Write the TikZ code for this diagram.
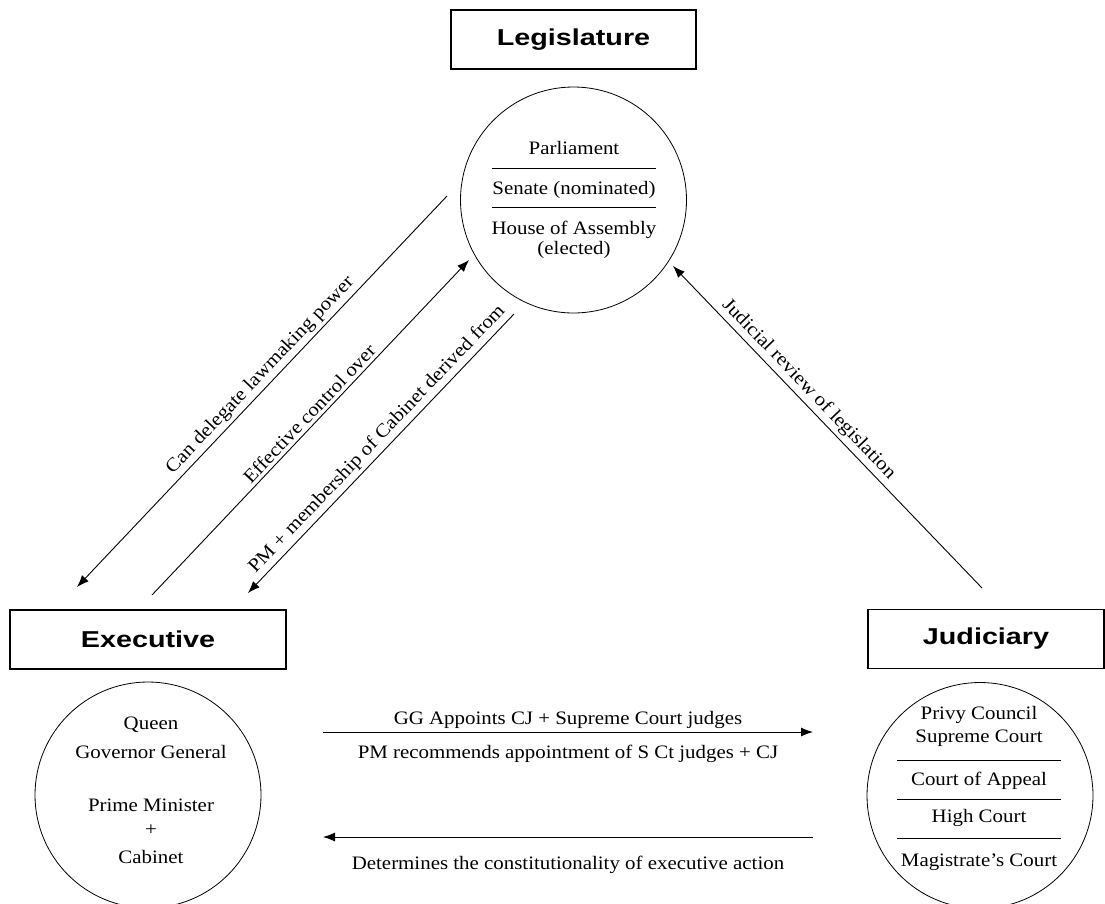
\documentclass[tikz,border=0pt]{standalone}
\usepackage{fontspec}
\setmainfont{Liberation Serif}[FakeStretch=1.1]
\newfontfamily\headfont{Liberation Sans}[FakeStretch=1.25]
\usepackage{tikz}
\usetikzlibrary{positioning}
\usetikzlibrary{arrows.meta}

\begin{document}
\begin{tikzpicture}[
x = 1pt, y = -1pt,
every node/.style = {font = \fontsize{19}{22}\selectfont},
  headbox/.style = {draw, rectangle, line width = 1.2pt, minimum height = 59pt,
    font = \headfont\bfseries\fontsize{23}{27}\selectfont},
  ring/.style = {draw, circle, minimum size = 226pt, inner sep = 0pt, line width = .8pt},
  arr/.style = {line width = .9pt, -{Latex[length = 12pt, width = 9pt]}},
  rra/.style = {line width = .9pt, {Latex[length = 12pt, width = 9pt]}-}
]
\path[use as bounding box, fill = white] (0,0) rectangle (1105,903);

% the three branches
\node[headbox, minimum width = 245pt] (legbox) at (573.5,39.5) {Legislature};
\node[headbox, minimum width = 276pt] (exebox) at (148,639.5) {Executive};
\node[headbox, minimum width = 236pt] (judbox) at (986,639) {Judiciary};

\node[ring, below = 17pt of legbox] (leg) {};
\node[ring, below = 12pt of exebox] (exe) {};
\node[ring, below = 13pt of judbox, xshift = -6pt] (jud) {};

% inside the circles
\foreach \y/\t in {148/Parliament, 190/Senate (nominated), 230/House of Assembly, 250/(elected)}
  \node (legtxt\y) at (574,\y) {\t};
\foreach \y in {168,207}
  \draw[line width = .8pt] (492,\y) -- (656,\y);

\foreach \y/\t in {725/Queen, 752/Governor General, 805/Prime Minister, 830/+, 857/Cabinet}
  \node (exetxt\y) at (151,\y) {\t};

\foreach \y/\t in {715/Privy Council, 738/Supreme Court, 781/Court of Appeal, 818/High Court, 862/Magistrate's Court}
  \node (judtxt\y) at (979,\y) {\t};
\foreach \y in {760,799,838}
  \draw[line width = .8pt] (897,\y) -- (1061,\y);

% connector ends
\coordinate (dela) at (77,587);
\coordinate (delb) at (447,196);
\coordinate (ctla) at (152,595);
\coordinate (ctlb) at (469,260);
\coordinate (pma) at (248,593);
\coordinate (pmb) at (514,314);
\coordinate (reva) at (673,266);
\coordinate (revb) at (982,588);
\coordinate (gga) at (323,732);
\coordinate (ggb) at (813,732);
\coordinate (deta) at (323,837);
\coordinate (detb) at (813,837);

\draw[rra] (dela) -- node[pos = .52, sloped, above] (lbldel) {Can delegate lawmaking power} (delb);
\draw[arr] (ctla) -- node[pos = .52, sloped, above] (lblctl) {Effective control over} (ctlb);
\draw[rra] (pma) -- node[pos = .52, sloped, above] (lblpm) {PM + membership of Cabinet derived from} (pmb);
\draw[rra] (reva) -- node[pos = .41, sloped, above] (lblrev) {Judicial review of legislation} (revb);

\draw[arr] (gga) -- node[above] (lblgg) {GG Appoints CJ + Supreme Court judges}
  node[below = 9pt] (lblrec) {PM recommends appointment of S Ct judges + CJ} (ggb);
\draw[arr] (detb) -- node[below = 15pt] (lbldet) {Determines the constitutionality of executive action} (deta);
\end{tikzpicture}
\end{document}
